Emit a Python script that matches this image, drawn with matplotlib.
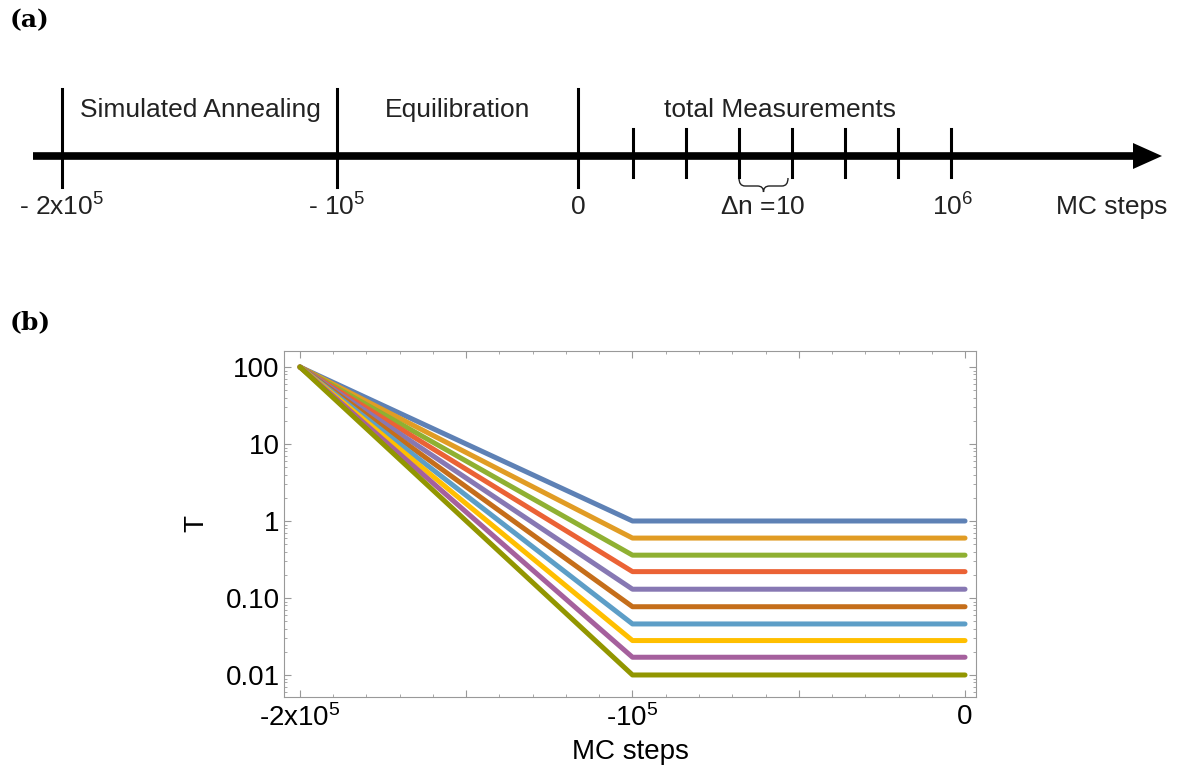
import numpy as np
import matplotlib.pyplot as plt
from matplotlib.path import Path
from matplotlib.patches import PathPatch
from matplotlib.ticker import MultipleLocator, LogLocator, NullFormatter

plt.rcParams['font.family'] = ['Liberation Sans', 'DejaVu Sans']
plt.rcParams['mathtext.fontset'] = 'custom'
plt.rcParams['mathtext.rm'] = 'Liberation Sans'
plt.rcParams['mathtext.it'] = 'Liberation Sans:italic'

# (a) schematic timeline, positions in figure pixels (not to scale)
phase_x = [62, 337, 578]
phase_labels = ['- 2x10$^5$', '- 10$^5$', '0']
phase_names = ['Simulated Annealing', 'Equilibration', 'total Measurements']
phase_name_x = [200, 458, 780]
meas_x = [633, 686, 739, 792, 845, 898, 951]
extra_labels = ['$\\Delta$n =10', '10$^6$', 'MC steps']
extra_label_x = [763, 953, 1112]

# (b) annealing schedules
t_start, t_anneal, t_end = -2e5, -1e5, 0
T_start = 100
T_final = [1.0, 0.60, 0.36, 0.22, 0.13, 0.077, 0.046, 0.028, 0.017, 0.01]
colors = ['#5E81B5', '#E19C24', '#8FB032', '#EB6235', '#8778B3',
          '#C56E1A', '#5D9EC7', '#FFBF00', '#A5609D', '#929600']

fig = plt.figure(figsize=(11.8, 7.75), dpi=100)

# ---------- panel (a) ----------
axa = fig.add_axes([0, 0, 1, 1])
axa.set_xlim(0, 1180)
axa.set_ylim(775, 0)
axa.axis('off')

axis_y = 156
axa.plot([33, 1140], [axis_y, axis_y], color='k', lw=5.5, solid_capstyle='butt')
axa.fill([1133, 1162, 1133], [143, axis_y, 169], color='k', lw=0)

for x in phase_x:
    axa.plot([x, x], [89, 187], color='k', lw=2.2)
for x in meas_x:
    axa.plot([x, x], [129, 177], color='k', lw=2.2)

for x, s in zip(phase_name_x, phase_names):
    axa.text(x, 110, s, ha='center', va='center', fontsize=19, color='#222222')
for x, s in zip(phase_x, phase_labels):
    axa.text(x, 207, s, ha='center', va='center', fontsize=19, color='#222222')
for x, s in zip(extra_label_x, extra_labels):
    axa.text(x, 207, s, ha='center', va='center', fontsize=19, color='#222222')

# curly brace under one measurement interval
x0, x1 = meas_x[2], meas_x[3] - 4
xm = (x0 + x1) / 2
ytop, ymid, ybot = 178, 186, 192
q = 6
verts = [(x0, ytop), (x0, ymid), (x0 + q, ymid), (xm - q, ymid), (xm, ymid), (xm, ybot),
         (xm, ymid), (xm + q, ymid), (x1 - q, ymid), (x1, ymid), (x1, ytop)]
codes = [Path.MOVETO, Path.CURVE3, Path.CURVE3, Path.LINETO, Path.CURVE3, Path.CURVE3,
         Path.CURVE3, Path.CURVE3, Path.LINETO, Path.CURVE3, Path.CURVE3]
axa.add_patch(PathPatch(Path(verts, codes), fill=False, lw=1.0, color='#222222'))

fig.text(10 / 1180, 1 - 20 / 775, '(a)', family='DejaVu Serif', weight='bold',
         fontsize=18, va='center', ha='left')
fig.text(10 / 1180, 1 - 322 / 775, '(b)', family='DejaVu Serif', weight='bold',
         fontsize=18, va='center', ha='left')

# ---------- panel (b) ----------
ax = fig.add_axes([284 / 1180, 78 / 775, 692 / 1180, 346 / 775])
for Tf, c in zip(T_final, colors):
    ax.plot([t_start, t_anneal, t_end], [T_start, Tf, Tf], color=c, lw=3.6,
            solid_capstyle='round', solid_joinstyle='round')

ax.set_yscale('log')
ax.set_xlim(-2.048e5, 3.3e3)
ax.set_ylim(10 ** -2.286, 10 ** 2.208)

ax.set_xticks([-2e5, -1.5e5, -1e5, -5e4, 0], ['-2x10$^5$', '', '-10$^5$', '', '0'])
ax.xaxis.set_minor_locator(MultipleLocator(1e4))
ax.set_yticks([100, 10, 1, 0.1, 0.01], ['100', '10', '1', '0.10', '0.01'])
ax.yaxis.set_minor_locator(LogLocator(base=10, subs=np.arange(2, 10)))
ax.yaxis.set_minor_formatter(NullFormatter())

ax.tick_params(which='both', direction='in', top=True, right=True, color='#999999',
               labelsize=20)
ax.tick_params(which='major', length=5, width=0.8)
ax.tick_params(which='minor', length=2.5, width=0.6)
ax.tick_params(axis='y', pad=3)
ax.tick_params(axis='x', pad=5)
for sp in ax.spines.values():
    sp.set_color('#999999')
    sp.set_linewidth(0.8)

ax.set_xlabel('MC steps', fontsize=20, labelpad=5)
ax.set_ylabel('T', fontsize=20, labelpad=12)

fig.savefig('out.png', dpi=100)
